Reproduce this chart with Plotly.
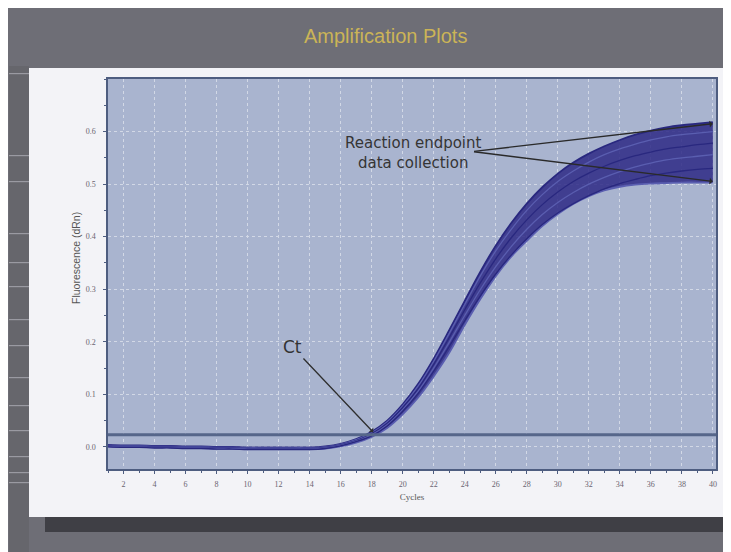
import plotly.graph_objects as go

# ---------------- data ----------------
cycles = list(range(1, 41))

curve_u1 = [0.004, 0.003, 0.003, 0.002, 0.002, 0.001, 0.001, 0.000, 0.000, -0.001,
            -0.001, -0.001, -0.001, -0.001, 0.001, 0.006, 0.015, 0.029, 0.050, 0.081,
            0.120, 0.168, 0.222, 0.278, 0.333, 0.383, 0.426, 0.463, 0.494, 0.520,
            0.541, 0.558, 0.572, 0.584, 0.594, 0.602, 0.608, 0.612, 0.615, 0.618]
curve_u2 = [0.003, 0.002, 0.002, 0.001, 0.001, 0.000, 0.000, -0.001, -0.001, -0.002,
            -0.002, -0.002, -0.002, -0.002, 0.000, 0.005, 0.014, 0.027, 0.048, 0.078,
            0.116, 0.163, 0.216, 0.271, 0.325, 0.373, 0.414, 0.450, 0.480, 0.505,
            0.525, 0.542, 0.556, 0.567, 0.576, 0.584, 0.590, 0.594, 0.597, 0.600]
curve_c = [0.002, 0.001, 0.001, 0.000, 0.000, -0.001, -0.001, -0.002, -0.002, -0.003,
           -0.003, -0.003, -0.003, -0.003, -0.001, 0.004, 0.012, 0.025, 0.045, 0.075,
           0.111, 0.157, 0.208, 0.261, 0.312, 0.358, 0.398, 0.432, 0.461, 0.485,
           0.505, 0.521, 0.534, 0.545, 0.554, 0.561, 0.567, 0.571, 0.575, 0.578]
curve_l1 = [0.001, 0.000, 0.000, -0.001, -0.001, -0.002, -0.002, -0.003, -0.003, -0.004,
            -0.004, -0.004, -0.004, -0.004, -0.002, 0.003, 0.011, 0.023, 0.042, 0.071,
            0.106, 0.150, 0.199, 0.250, 0.299, 0.343, 0.381, 0.414, 0.442, 0.465,
            0.484, 0.500, 0.513, 0.524, 0.533, 0.540, 0.546, 0.550, 0.553, 0.556]
curve_l2 = [0.000, -0.001, -0.001, -0.002, -0.002, -0.003, -0.003, -0.004, -0.004, -0.005,
            -0.005, -0.005, -0.005, -0.005, -0.003, 0.002, 0.010, 0.021, 0.040, 0.068,
            0.102, 0.144, 0.191, 0.240, 0.287, 0.329, 0.365, 0.396, 0.423, 0.445,
            0.463, 0.478, 0.491, 0.501, 0.509, 0.516, 0.521, 0.525, 0.528, 0.530]
curve_l3 = [0.001, 0.000, 0.000, -0.001, -0.001, -0.002, -0.002, -0.003, -0.003, -0.004,
            -0.004, -0.004, -0.004, -0.004, -0.003, 0.001, 0.008, 0.019, 0.036, 0.062,
            0.094, 0.134, 0.179, 0.232, 0.281, 0.325, 0.362, 0.392, 0.420, 0.443,
            0.462, 0.477, 0.488, 0.495, 0.499, 0.501, 0.502, 0.503, 0.503, 0.503]

threshold = 0.023

x_ticks = list(range(2, 41, 2))
y_ticks = [0.0, 0.1, 0.2, 0.3, 0.4, 0.5, 0.6]

title_text = "Amplification Plots"
x_title = "Cycles"
y_title = "Fluorescence (dRn)"
endpoint_label = "Reaction endpoint<br>data collection"
ct_label = "Ct"

# annotation anchor points (data coordinates)
endpoint_tail = (24.5, 0.562)
endpoint_heads = [(40.0, 0.615), (40.0, 0.505)]
ct_text_pos = (12.9, 0.19)
ct_head = (18.1, 0.028)

# ---------------- figure geometry ----------------
OFF = 8                      # page body margin
W, H = 731 - OFF, 552 - OFF
L, R, T, B = 108 - OFF, 15, 79 - OFF, 83
PW, PH = W - L - R, H - T - B


def px(xp):   # page pixel -> paper fraction
    return (xp - OFF - L) / PW


def py(yp):
    return (H - B - (yp - OFF)) / PH


fig = go.Figure()

band_color = "rgba(46,42,134,0.86)"
line_dark = "#29287f"
line_light = "#5a5eb0"

fig.add_trace(go.Scatter(x=cycles, y=curve_l3, mode="lines",
                         line=dict(color=line_light, width=1.8, shape="spline"),
                         hoverinfo="skip", showlegend=False))
fig.add_trace(go.Scatter(x=cycles, y=curve_u1, mode="lines", fill="tonexty",
                         fillcolor=band_color,
                         line=dict(color=line_dark, width=1.8, shape="spline"),
                         hoverinfo="skip", showlegend=False))
for cv, col in [(curve_u2, line_light), (curve_c, line_dark),
                (curve_l1, line_light), (curve_l2, line_dark)]:
    fig.add_trace(go.Scatter(x=cycles, y=cv, mode="lines",
                             line=dict(color=col, width=1.3, shape="spline"),
                             hoverinfo="skip", showlegend=False))

# ---------------- slide decorations ----------------
shapes = []


def rect(x0, y0, x1, y1, color):
    shapes.append(dict(type="rect", xref="paper", yref="paper",
                       x0=px(x0), x1=px(x1), y0=py(y1), y1=py(y0),
                       fillcolor=color, line=dict(width=0), layer="below"))


rect(9, 66, 29, 552, "#66666c")          # left strip
for yy in [73, 155, 181, 233, 262, 286, 319, 345, 377, 405, 430, 456, 472, 482]:
    rect(9, yy, 29, yy + 1.2, "#9a9aa2")
rect(29, 68, 723, 517, "#f3f3f7")        # white panel
rect(723, 66, 731, 520, "#45454b")       # right dark strip
rect(45, 517, 731, 532, "#3f3f45")       # bottom shadow band
# plot background (drawn as a shape so that it sits above the panel)
shapes.append(dict(type="rect", xref="paper", yref="paper", x0=0, x1=1, y0=0, y1=1,
                   fillcolor="#a9b4cf", line=dict(width=0), layer="below"))
# threshold line
shapes.append(dict(type="line", xref="x domain", yref="y", x0=0, x1=1,
                   y0=threshold, y1=threshold,
                   line=dict(color="#56668a", width=3), layer="above"))

fig.update_layout(shapes=shapes)

annotations = [
    dict(text=title_text, xref="paper", yref="paper", x=px(385), y=py(36),
         xanchor="center", yanchor="middle", showarrow=False,
         font=dict(size=20, color="#cbb457", family="Liberation Sans")),
    dict(text=y_title, xref="paper", yref="paper", x=px(76), y=py(258), textangle=-90,
         xanchor="center", yanchor="middle", showarrow=False,
         font=dict(size=10.5, color="#555555", family="Liberation Sans")),
    dict(text=endpoint_label, x=20.7, y=0.560, xref="x", yref="y", showarrow=False,
         font=dict(size=15, color="#353535", family="DejaVu Sans")),
    dict(text=ct_label, x=ct_head[0], y=ct_head[1], ax=ct_text_pos[0], ay=ct_text_pos[1],
         xref="x", yref="y", axref="x", ayref="y", showarrow=True,
         arrowhead=1, arrowsize=0.8, arrowwidth=1.3, arrowcolor="#2f2f2f",
         font=dict(size=17, color="#333333", family="DejaVu Sans")),
]
for hx, hy in endpoint_heads:
    annotations.append(dict(text="", x=hx, y=hy, ax=endpoint_tail[0], ay=endpoint_tail[1],
                            xref="x", yref="y", axref="x", ayref="y", showarrow=True,
                            arrowhead=1, arrowsize=0.8, arrowwidth=1.4,
                            arrowcolor="#2a2a2a", standoff=0, startstandoff=0))
fig.update_layout(annotations=annotations)

axis_line = "#4e5d80"
grid_col = "#d2d8e6"

fig.update_xaxes(range=[1, 40.2], tickvals=x_ticks, ticks="outside", ticklen=3,
                 tickcolor=axis_line, showline=True, linecolor=axis_line, linewidth=1.5,
                 mirror=True, showgrid=True, gridcolor=grid_col, griddash="dot",
                 gridwidth=1, zeroline=False,
                 minor=dict(dtick=1, ticks="outside", ticklen=2, tickcolor=axis_line),
                 tickfont=dict(size=8, color="#6a6470", family="Liberation Serif"),
                 ticklabelstandoff=4,
                 title=dict(text=x_title, font=dict(size=9, color="#555555",
                                                    family="Liberation Serif"),
                            standoff=5))
fig.update_yaxes(range=[-0.042, 0.70], tickvals=y_ticks, tickformat=".1f",
                 ticks="outside", ticklen=3, tickcolor=axis_line,
                 showline=True, linecolor=axis_line, linewidth=1.5, mirror=True,
                 showgrid=True, gridcolor=grid_col, griddash="dot", gridwidth=1,
                 zeroline=False,
                 minor=dict(dtick=0.05, tick0=0, ticks="outside", ticklen=2,
                            tickcolor=axis_line),
                 tickfont=dict(size=8, color="#6a6470", family="Liberation Serif"),
                 ticklabelstandoff=6)

fig.update_layout(width=W, height=H, margin=dict(l=L, r=R, t=T, b=B, autoexpand=False),
                  paper_bgcolor="#6e6e76", plot_bgcolor="#a9b4cf",
                  showlegend=False)

fig.write_html("out.html")
